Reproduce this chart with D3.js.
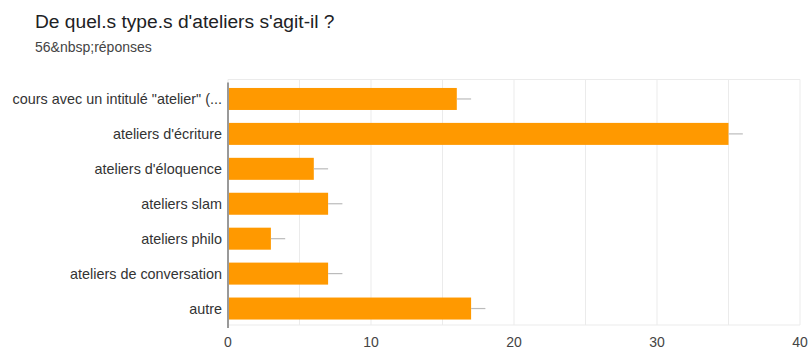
<!DOCTYPE html>
<html>
<head>
<meta charset="utf-8">
<script src="https://cdn.jsdelivr.net/npm/d3@7"></script>
<style>
  body { margin: 0; background: #fff; }
  svg { display: block; font-family: "Liberation Sans", Arial, sans-serif; }
</style>
</head>
<body>
<svg width="809" height="349"></svg>
<script>
// data
var categories = [
  'cours avec un intitulé "atelier" (...',
  "ateliers d'écriture",
  "ateliers d'éloquence",
  "ateliers slam",
  "ateliers philo",
  "ateliers de conversation",
  "autre"
];
var counts = [16, 35, 6, 7, 3, 7, 17];
var xTicks = [0, 10, 20, 30, 40];
var gridTicks = [0, 5, 10, 15, 20, 25, 30, 35, 40];

var svg = d3.select("svg");
var plotLeft = 228, plotRight = 800, plotTop = 81.5, plotBottom = 326;

var x = d3.scaleLinear().domain([0, 40]).range([plotLeft, plotRight]);
var y = d3.scaleBand().domain(categories).range([plotTop, plotBottom])
  .paddingInner(0.37).paddingOuter(0.185);

// title
svg.append("text")
  .attr("x", 35).attr("y", 28)
  .attr("font-size", 19.2).attr("fill", "#202124")
  .text("De quel.s type.s d'ateliers s'agit-il ?");
svg.append("text")
  .attr("x", 35).attr("y", 52)
  .attr("font-size", 14).attr("fill", "#444")
  .text("56&nbsp;réponses");

// grid lines
svg.append("g").selectAll("line")
  .data(gridTicks)
  .enter().append("line")
  .attr("x1", d => x(d)).attr("x2", d => x(d))
  .attr("y1", plotTop - 2).attr("y2", plotBottom - 1)
  .attr("stroke", "#ebebeb").attr("stroke-width", 1);
svg.append("g").selectAll("line")
  .data([plotTop - 2, plotBottom - 1])
  .enter().append("line")
  .attr("x1", plotLeft).attr("x2", plotRight)
  .attr("y1", d => d).attr("y2", d => d)
  .attr("stroke", "#ebebeb");

// bars
svg.append("g").selectAll("rect")
  .data(counts)
  .enter().append("rect")
  .attr("x", x(0))
  .attr("y", (d, i) => y(categories[i]))
  .attr("width", d => x(d) - x(0))
  .attr("height", y.bandwidth())
  .attr("fill", "#ff9900");

// little grey tails after the bars
svg.append("g").selectAll("line")
  .data(counts)
  .enter().append("line")
  .attr("x1", d => x(d)).attr("x2", d => x(d + 1))
  .attr("y1", (d, i) => y(categories[i]) + y.bandwidth() / 2)
  .attr("y2", (d, i) => y(categories[i]) + y.bandwidth() / 2)
  .attr("stroke", "#bbb").attr("stroke-width", 1.2);

// y axis line
svg.append("line")
  .attr("x1", plotLeft).attr("x2", plotLeft)
  .attr("y1", plotTop + 1).attr("y2", plotBottom + 2)
  .attr("stroke", "#999").attr("stroke-width", 2);

// category labels
svg.append("g").selectAll("text")
  .data(categories)
  .enter().append("text")
  .attr("x", plotLeft - 6)
  .attr("y", d => y(d) + y.bandwidth() / 2)
  .attr("dy", "0.35em")
  .attr("text-anchor", "end")
  .attr("font-size", 14.4).attr("fill", "#333")
  .text(d => d);

// x tick labels
svg.append("g").selectAll("text")
  .data(xTicks)
  .enter().append("text")
  .attr("x", d => x(d))
  .attr("y", 347)
  .attr("text-anchor", "middle")
  .attr("font-size", 14).attr("fill", "#444")
  .text(d => d);
</script>
</body>
</html>
